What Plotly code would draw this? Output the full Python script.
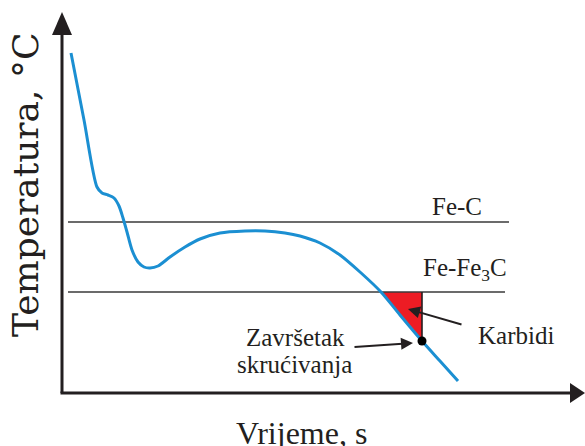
import numpy as np
import plotly.graph_objects as go

# Cooling curve of cast iron: time (arbitrary units) vs temperature (arbitrary units)
time = [71, 84, 97, 102, 108, 114, 119, 123, 127, 132, 138, 144, 150, 158, 170, 185,
        200, 220, 245, 265, 285, 300, 320, 340, 360, 381, 400, 422, 440, 458]
temperature = [393, 326, 259, 253, 251, 248, 240, 228, 214, 196, 184, 179, 178, 180, 189, 199,
               207, 213, 215, 215, 213, 210, 203, 191, 174, 154, 131, 105, 85, 65]

# Equilibrium temperatures of the two systems
level_names = ["Fe-C", "Fe-Fe<sub>3</sub>C"]
level_temps = [224, 154]
level_start, level_end = [68, 68], [509, 505]

# End of solidification point
end_time, end_temp = 422, 105

# Axis frame
x_min, x_max = 0, 585
y_min, y_max = 0, 446
origin_x, origin_y = 62, 53

blue = "#1b8fd2"
red = "#ed1c24"
ink = "#231f20"
serif = "Liberation Serif"

fig = go.Figure()

# Carbide region between the Fe-Fe3C line and the curve
t = np.array(time)
T = np.array(temperature)
mask = (t >= 381) & (t <= end_time)
poly_x = list(t[mask]) + [end_time, t[mask][0]]
poly_y = list(T[mask]) + [level_temps[1], T[mask][0]]
fig.add_trace(go.Scatter(x=poly_x, y=poly_y, mode="lines", fill="toself",
                         fillcolor=red, line=dict(width=0), hoverinfo="skip"))

# Equilibrium lines
for x0, x1, lvl in zip(level_start, level_end, level_temps):
    fig.add_trace(go.Scatter(x=[x0, x1], y=[lvl, lvl], mode="lines",
                             line=dict(color="#3a3a3a", width=1.6), hoverinfo="skip"))

# Vertical edge of the carbide region
fig.add_trace(go.Scatter(x=[end_time, end_time], y=[level_temps[1], end_temp], mode="lines",
                         line=dict(color=ink, width=1.6), hoverinfo="skip"))

# Cooling curve
fig.add_trace(go.Scatter(x=time, y=temperature, mode="lines",
                         line=dict(color=blue, width=3, shape="spline", smoothing=0.8),
                         hoverinfo="skip"))

# End of solidification marker
fig.add_trace(go.Scatter(x=[end_time], y=[end_temp], mode="markers",
                         marker=dict(color="black", size=9), hoverinfo="skip"))

# Axes with arrowheads
fig.add_shape(type="line", x0=origin_x, y0=origin_y, x1=origin_x, y1=415,
              line=dict(color=ink, width=3))
fig.add_shape(type="line", x0=origin_x - 1.5, y0=origin_y, x1=572, y1=origin_y,
              line=dict(color=ink, width=3))
fig.add_shape(type="path", path=f"M {origin_x-10},411 L {origin_x},434 L {origin_x+10},411 Z",
              fillcolor=ink, line=dict(width=0))
fig.add_shape(type="path", path=f"M 570,{origin_y+10} L 585,{origin_y} L 570,{origin_y-10} Z",
              fillcolor=ink, line=dict(width=0))

label_font = dict(family=serif, size=25, color=ink)

# Labels
fig.add_annotation(x=457, y=240, text=level_names[0], showarrow=False, font=label_font)
fig.add_annotation(x=465, y=177, text=level_names[1], showarrow=False, font=label_font)
fig.add_annotation(x=516, y=111, text="Karbidi", showarrow=False, font=label_font)
fig.add_annotation(x=295, y=109, text="Završetak", showarrow=False, font=label_font)
fig.add_annotation(x=294, y=82, text="skrućivanja", showarrow=False, font=label_font)

# Pointer arrows
fig.add_annotation(x=408, y=137, ax=463, ay=121, xref="x", yref="y", axref="x", ayref="y",
                   text="", showarrow=True, arrowhead=2, arrowsize=1.2, arrowwidth=2,
                   arrowcolor=ink)
fig.add_annotation(x=413, y=103, ax=353, ay=99, xref="x", yref="y", axref="x", ayref="y",
                   text="", showarrow=True, arrowhead=2, arrowsize=1.2, arrowwidth=2,
                   arrowcolor=ink)

# Axis titles
fig.add_annotation(x=301, y=13, text="Vrijeme, s", showarrow=False,
                   font=dict(family=serif, size=32, color=ink))
fig.add_annotation(x=25, y=261, text="Temperatura, °C", showarrow=False, textangle=-90,
                   font=dict(family="DejaVu Serif", size=36, color=ink))

fig.update_layout(
    width=585, height=446,
    margin=dict(l=0, r=0, t=0, b=0),
    paper_bgcolor="white", plot_bgcolor="white",
    showlegend=False,
    xaxis=dict(range=[x_min, x_max], visible=False, fixedrange=True),
    yaxis=dict(range=[y_min, y_max], visible=False, fixedrange=True),
)

fig.write_html("out.html")
